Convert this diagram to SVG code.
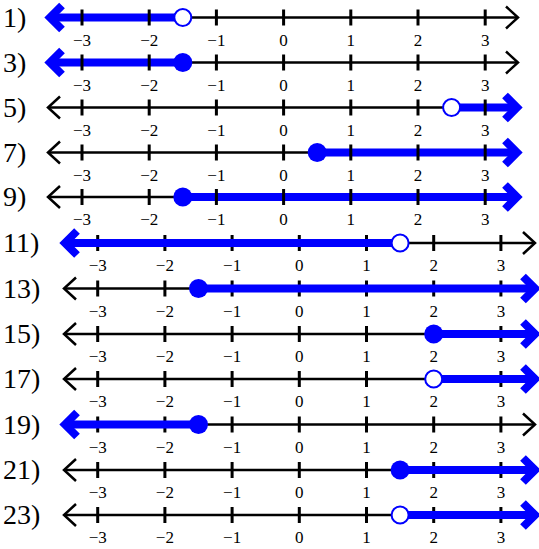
<svg xmlns="http://www.w3.org/2000/svg" width="539" height="549" viewBox="0 0 539 549">
<style>
.ax{stroke:#000;stroke-width:2.5;fill:none}
.ch{stroke:#000;stroke-width:2.5;fill:none;stroke-linejoin:miter;stroke-miterlimit:10}
.tk{stroke:#000;stroke-width:3;fill:none}
.bl{stroke:#0000ff;stroke-width:8;fill:none}
.bch{stroke:#0000ff;stroke-width:8;fill:none;stroke-linejoin:miter;stroke-miterlimit:10}
.op{fill:#fff;stroke:#0000ff;stroke-width:2}
.fd{fill:#0000ff}
.lab{font-family:"Liberation Serif","Times New Roman",serif;font-size:17px;text-anchor:middle;fill:#000}
.num{font-family:"Liberation Serif","Times New Roman",serif;font-size:28px;fill:#000}
</style>
<defs>
<polyline id="cL" class="ch" points="12,-11 0,0 12,11"/>
<polyline id="cR" class="ch" points="-12,-11 0,0 -12,11"/>
<polyline id="bL" class="bch" points="12,-12 0,0 12,12"/>
<polyline id="bR" class="bch" points="-12,-12 0,0 -12,12"/>
<g id="tT">
<path class="tk" d="M82,-8V8M149.2,-8V8M216.4,-8V8M283.6,-8V8M350.8,-8V8M418,-8V8M485.2,-8V8"/>
<text class="lab" x="82" y="28">−3</text><text class="lab" x="149.2" y="28">−2</text><text class="lab" x="216.4" y="28">−1</text><text class="lab" x="283.6" y="28">0</text><text class="lab" x="350.8" y="28">1</text><text class="lab" x="418" y="28">2</text><text class="lab" x="485.2" y="28">3</text>
</g>
<g id="tB">
<path class="tk" d="M97.7,-8V8M164.9,-8V8M232.1,-8V8M299.3,-8V8M366.5,-8V8M433.7,-8V8M500.9,-8V8"/>
<text class="lab" x="97.7" y="28">−3</text><text class="lab" x="164.9" y="28">−2</text><text class="lab" x="232.1" y="28">−1</text><text class="lab" x="299.3" y="28">0</text><text class="lab" x="366.5" y="28">1</text><text class="lab" x="433.7" y="28">2</text><text class="lab" x="500.9" y="28">3</text>
</g>
</defs>

<g id="row1" transform="translate(0,17.5)">
<text class="num" x="3" y="9">1)</text>
<path class="ax" d="M48,0H518"/><use href="#cR" x="518"/>
<path class="bl" d="M50,0H182.8"/><use href="#bL" x="50"/>
<use href="#tT"/>
<circle class="op" cx="182.8" cy="0" r="8.5"/>
</g>
<g id="row3" transform="translate(0,62.5)">
<text class="num" x="3" y="9">3)</text>
<path class="ax" d="M48,0H518"/><use href="#cR" x="518"/>
<path class="bl" d="M50,0H182.8"/><use href="#bL" x="50"/>
<use href="#tT"/>
<circle class="fd" cx="182.8" cy="0" r="9.5"/>
</g>
<g id="row5" transform="translate(0,107.5)">
<text class="num" x="3" y="9">5)</text>
<path class="ax" d="M48,0H518"/><use href="#cL" x="48"/>
<path class="bl" d="M451.6,0H517"/><use href="#bR" x="517"/>
<use href="#tT"/>
<circle class="op" cx="451.6" cy="0" r="8.5"/>
</g>
<g id="row7" transform="translate(0,152.5)">
<text class="num" x="3" y="9">7)</text>
<path class="ax" d="M48,0H518"/><use href="#cL" x="48"/>
<path class="bl" d="M317.2,0H517"/><use href="#bR" x="517"/>
<use href="#tT"/>
<circle class="fd" cx="317.2" cy="0" r="9.5"/>
</g>
<g id="row9" transform="translate(0,197)">
<text class="num" x="3" y="9">9)</text>
<path class="ax" d="M48,0H518"/><use href="#cL" x="48"/>
<path class="bl" d="M182.8,0H517"/><use href="#bR" x="517"/>
<use href="#tT"/>
<circle class="fd" cx="182.8" cy="0" r="9.5"/>
</g>

<g id="row11" transform="translate(0,243)">
<text class="num" x="3" y="9">11)</text>
<path class="ax" d="M64,0H535"/><use href="#cR" x="535"/>
<use href="#tB"/>
<path class="bl" d="M65,0H400.1"/><use href="#bL" x="65"/>
<circle class="op" cx="400.1" cy="0" r="8.5"/>
</g>
<g id="row13" transform="translate(0,288.5)">
<text class="num" x="3" y="9">13)</text>
<path class="ax" d="M64,0H535"/><use href="#cL" x="64"/>
<use href="#tB"/>
<path class="bl" d="M198.5,0H535"/><use href="#bR" x="535"/>
<circle class="fd" cx="198.5" cy="0" r="9.5"/>
</g>
<g id="row15" transform="translate(0,334)">
<text class="num" x="3" y="9">15)</text>
<path class="ax" d="M64,0H535"/><use href="#cL" x="64"/>
<use href="#tB"/>
<path class="bl" d="M433.7,0H535"/><use href="#bR" x="535"/>
<circle class="fd" cx="433.7" cy="0" r="9.5"/>
</g>
<g id="row17" transform="translate(0,379)">
<text class="num" x="3" y="9">17)</text>
<path class="ax" d="M64,0H535"/><use href="#cL" x="64"/>
<use href="#tB"/>
<path class="bl" d="M433.7,0H535"/><use href="#bR" x="535"/>
<circle class="op" cx="433.7" cy="0" r="8.5"/>
</g>
<g id="row19" transform="translate(0,424.5)">
<text class="num" x="3" y="9">19)</text>
<path class="ax" d="M64,0H535"/><use href="#cR" x="535"/>
<use href="#tB"/>
<path class="bl" d="M65,0H198.5"/><use href="#bL" x="65"/>
<circle class="fd" cx="198.5" cy="0" r="9.5"/>
</g>
<g id="row21" transform="translate(0,470)">
<text class="num" x="3" y="9">21)</text>
<path class="ax" d="M64,0H535"/><use href="#cL" x="64"/>
<use href="#tB"/>
<path class="bl" d="M400.1,0H535"/><use href="#bR" x="535"/>
<circle class="fd" cx="400.1" cy="0" r="9.5"/>
</g>
<g id="row23" transform="translate(0,515)">
<text class="num" x="3" y="9">23)</text>
<path class="ax" d="M64,0H535"/><use href="#cL" x="64"/>
<use href="#tB"/>
<path class="bl" d="M400.1,0H535"/><use href="#bR" x="535"/>
<circle class="op" cx="400.1" cy="0" r="8.5"/>
</g>
</svg>
